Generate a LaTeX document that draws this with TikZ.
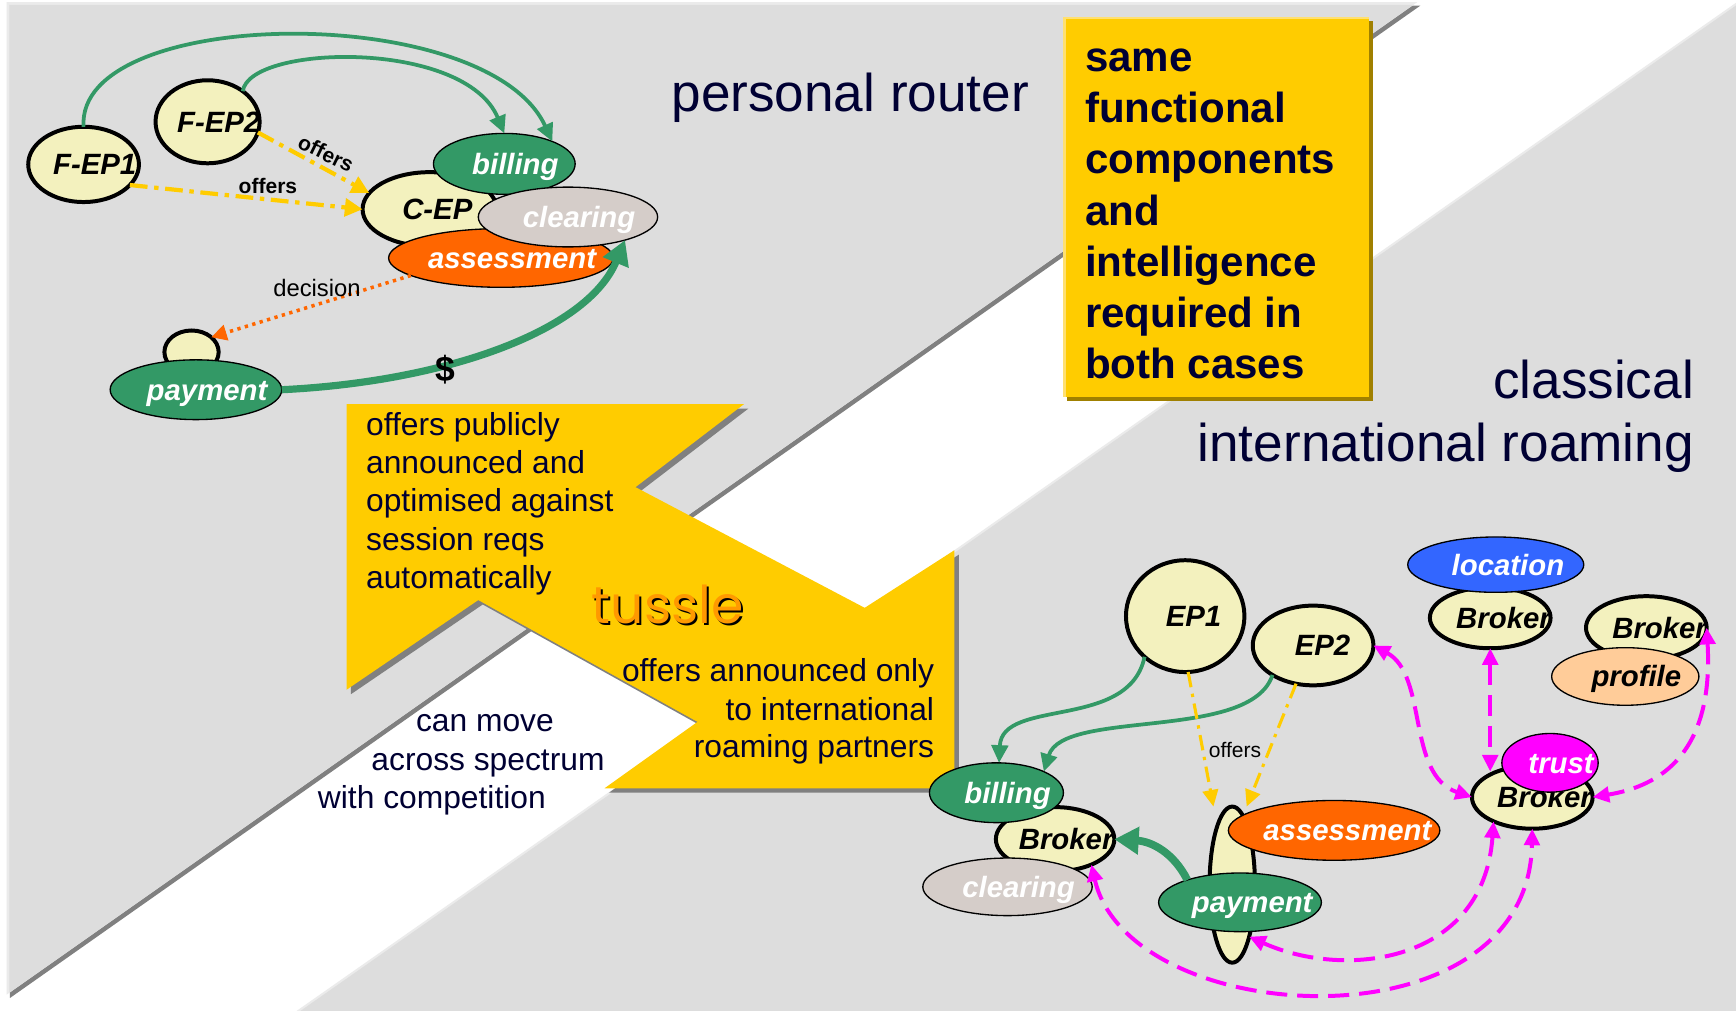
\documentclass[tikz,border=0pt]{standalone}
\usepackage{fontspec}
\setmainfont{Liberation Sans}
\newfontfamily\tusslefont{Poppins}
\usetikzlibrary{shapes.geometric,arrows.meta,calc}

\definecolor{panelgray}{HTML}{DDDDDD}
\definecolor{panellight}{HTML}{EBEBEB}
\definecolor{edgegray}{HTML}{808080}
\definecolor{gold}{HTML}{FFCC00}
\definecolor{goldshadow}{HTML}{A08000}
\definecolor{goldlight}{HTML}{FFE070}
\definecolor{navy}{HTML}{000033}
\definecolor{pale}{HTML}{F3F1BE}
\definecolor{fgreen}{HTML}{339966}
\definecolor{clearfill}{HTML}{D5CDC9}
\definecolor{assess}{HTML}{FF6600}
\definecolor{locblue}{HTML}{3366FF}
\definecolor{trustpink}{HTML}{FF00FF}
\definecolor{profilefill}{HTML}{FFCC99}
\definecolor{tussleorange}{HTML}{FF9900}

% label inside an ellipse, nudged to the right of the centre
\newcommand\nodetext[2][20pt]{\makebox[0pt]{\hspace*{#1}#2}}

\begin{document}
\begin{tikzpicture}[x=1pt, y=-1pt,
  every node/.style={inner sep=0pt, outer sep=0pt},
  ent/.style={ellipse, draw=black, text height=19pt, text depth=0pt,
    font=\fontsize{26.5}{30}\selectfont\bfseries\itshape},
  ep/.style={ent, fill=pale, line width=3.6pt, text=black},
  comp/.style={ent, line width=1.2pt, text=white},
  heading/.style={font=\fontsize{48}{56}\selectfont, text=navy},
  boxline/.style={font=\fontsize{38}{46}\selectfont\bfseries, text=navy, anchor=base west},
  note/.style={font=\fontsize{28.7}{34}\selectfont, text=navy},
  tag/.style={font=\fontsize{19}{22}\selectfont, text=black, anchor=base},
  greenlink/.style={draw=fgreen, line width=3.4pt, -{Triangle[length=16pt,width=15pt]}},
  offerlink/.style={draw=gold, line width=3.8pt, dash pattern=on 16pt off 6pt on 4pt off 6pt,
    -{Triangle[length=16pt,width=16pt]}},
  offerlinkthin/.style={draw=gold, line width=2.8pt, dash pattern=on 14pt off 6pt on 3pt off 6pt,
    -{Triangle[length=15pt,width=14pt]}},
  decisionlink/.style={draw=assess, line width=3.2pt, dash pattern=on 3pt off 4pt,
    -{Triangle[length=14pt,width=14pt]}},
  moneylink/.style={draw=fgreen, line width=6.5pt, -{Triangle[length=22pt,width=24pt]}},
  trustlink/.style={draw=trustpink, line width=3.6pt, dash pattern=on 19pt off 9pt,
    {Triangle[length=15pt,width=14pt]}-{Triangle[length=15pt,width=14pt]}}
]
\useasboundingbox (0,0) rectangle (1568,913);
\fill[white] (0,0) rectangle (1568,913);

% ---- background panels ----
\fill[edgegray] (9,5) -- (1283,5) -- (9,901.4) -- cycle;
\fill[panellight] (6,2) -- (1280,2) -- (6,898.4) -- cycle;
\fill[panelgray] (8.5,4.5) -- (1276.4,4.5) -- (8.5,896.6) -- cycle;
\fill[panellight] (268,913) -- (1568,2.5) -- (1568,913) -- cycle;
\fill[panelgray] (271.5,913) -- (1568,4.95) -- (1568,913) -- cycle;

% ---- tussle banner ----
\begin{scope}[shift={(4,4)}]
  \fill[edgegray] (313,365) -- (672,365) -- (574,440) -- (781,549) -- (862,497) -- (862,712)
    -- (546,712) -- (630,652) -- (432,542) -- (313,623) -- cycle;
\end{scope}
\fill[gold] (313,365) -- (672,365) -- (574,440) -- (781,549) -- (862,497) -- (862,712)
  -- (546,712) -- (630,652) -- (432,542) -- (313,623) -- cycle;

% ---- yellow summary box ----
\fill[goldshadow] (963.5,18.6) rectangle (1239.7,362);
\fill[goldlight] (960.5,15.6) rectangle (1236.7,359);
\fill[gold] (962.5,17.6) rectangle (1236.7,359);
\foreach \t [count=\i] in {same, functional, components, and, intelligence, required in, both cases}
  \node[boxline] (sum\i) at (980, {64.7+46.2*(\i-1)}) {\t};

% ---- headings ----
\node[heading, anchor=base west] (prhead) at (606.5,101) {personal router};
\node[heading, anchor=base east] (crhead1) at (1530,359.8) {classical};
\node[heading, anchor=base east] (crhead2) at (1530,417) {international roaming};

% ---- banner texts ----
\foreach \t [count=\i] in {offers publicly, announced and, optimised against, session reqs, automatically}
  \node[note, anchor=base west] (pub\i) at (330.7, {393+34.6*(\i-1)}) {\t};
\node[note, anchor=base east] (part1) at (843.7,615.8) {offers announced only};
\node[note, anchor=base east] (part2) at (843.7,650.4) {to international};
\node[note, anchor=base east] (part3) at (843.7,684.4) {roaming partners};
\node[note, anchor=base west] (move1) at (375.8,661) {can move};
\node[note, anchor=base west] (move2) at (335.5,695.6) {across spectrum};
\node[note, anchor=base west] (move3) at (287.2,730.2) {with competition};
\node[font=\tusslefont\fontsize{47}{50}\selectfont, text=black, anchor=base west] (tussleshade) at (536.5,565) {tussle};
\node[font=\tusslefont\fontsize{47}{50}\selectfont, text=tussleorange, anchor=base west] (tussle) at (534.5,563) {tussle};

% ---- personal router entities ----
\node[ep, minimum width=100pt, minimum height=68pt] (fep1) at (75.5,148.5) {\nodetext{F-EP1}};
\node[ep, minimum width=94pt, minimum height=75pt] (fep2) at (187.5,110) {\nodetext{F-EP2}};
\node[ep, minimum width=121pt, minimum height=67pt] (cep) at (388,189) {\nodetext[14pt]{C-EP}};
\node[comp, fill=assess, minimum width=203pt, minimum height=53pt] (assessL) at (452.5,233) {\nodetext{assessment}};
\node[comp, fill=fgreen, minimum width=128pt, minimum height=55pt] (billingL) at (455.5,148) {\nodetext{billing}};
\node[comp, fill=clearfill, minimum width=162pt, minimum height=54pt] (clearingL) at (513,196) {\nodetext{clearing}};
\node[ep, minimum width=49pt, minimum height=39pt] (pcirc) at (173,318) {};
\node[comp, fill=fgreen, minimum width=155pt, minimum height=54pt] (paymentL) at (177,352) {\nodetext{payment}};

% ---- personal router links ----
\draw[greenlink] (fep1.90) .. controls (68,5) and (440,0) .. (billingL.25);
\draw[greenlink] (fep2.41) .. controls (225,40) and (420,35) .. (billingL.north);
\draw[offerlink] (fep1.-24) -- (cep.west);
\draw[offerlink] (fep2.-12) -- (cep.165);
\node[tag, font=\fontsize{19}{22}\selectfont\bfseries] (offerA) at (242,174.6) {offers};
\node[font=\fontsize{19}{22}\selectfont\bfseries, rotate=-26] (offerB) at (294.5,138.5) {offers};
\draw[decisionlink] (assessL.191.5) -- (pcirc.37);
\node[tag, font=\fontsize{21.5}{24}\selectfont] (decision) at (286.3,268) {decision};
\draw[moneylink] (paymentL.east) .. controls (400,345) and (530,300) .. (clearingL.-22);
\node[font=\fontsize{32}{36}\selectfont\bfseries, anchor=base] (dollar) at (402,345) {\$};

% ---- roaming entities ----
\node[ep, minimum width=107pt, minimum height=101pt] (ep1) at (1070.5,556.5) {\nodetext[15pt]{EP1}};
\node[ep, minimum width=109pt, minimum height=72pt] (ep2) at (1186,583) {\nodetext[17pt]{EP2}};
\node[ep, minimum width=107pt, minimum height=58pt] (brokerL) at (953,758) {\nodetext{Broker}};
\node[comp, fill=fgreen, minimum width=121pt, minimum height=54pt] (billingR) at (900,716) {\nodetext{billing}};
\node[comp, fill=clearfill, minimum width=153pt, minimum height=52pt] (clearingR) at (910,801) {\nodetext{clearing}};
\node[ep, minimum width=41pt, minimum height=141pt] (col) at (1113,799) {};
\node[comp, fill=assess, minimum width=191pt, minimum height=54pt] (assessR) at (1205,750) {\nodetext[24pt]{assessment}};
\node[comp, fill=fgreen, minimum width=147pt, minimum height=53pt] (paymentR) at (1120,815) {\nodetext[22pt]{payment}};
\node[ep, minimum width=109pt, minimum height=55pt] (brokerTop) at (1346,558) {\nodetext[24pt]{Broker}};
\node[comp, fill=locblue, minimum width=159pt, minimum height=50pt] (location) at (1351,510) {\nodetext[22pt]{location}};
\node[ep, minimum width=109pt, minimum height=57pt] (brokerR) at (1487,567) {\nodetext[24pt]{Broker}};
\node[ent, fill=profilefill, line width=1.2pt, text=black, minimum width=133pt, minimum height=52pt] (profile) at (1468,611) {\nodetext{profile}};
\node[ep, minimum width=109pt, minimum height=57pt] (brokerC) at (1384,720) {\nodetext[22pt]{Broker}};
\node[comp, fill=trustpink, minimum width=87pt, minimum height=53pt] (trust) at (1400,689) {\nodetext{trust}};

% ---- roaming links ----
\draw[greenlink] (ep1.225) .. controls (1020,660) and (905,630) .. (billingR.85);
\draw[greenlink] (ep2.216) .. controls (1130,670) and (960,640) .. (billingR.24);
\draw[offerlinkthin] (ep1.-87) -- ($(col.north)+(-17,0)$);
\draw[offerlinkthin] (ep2.246) -- ($(col.north)+(13,0)$);
\node[tag] (offerC) at (1115.5,684.4) {offers};
\draw[moneylink, line width=7pt] (paymentR.157) .. controls (1060,770) and (1040,760) .. (brokerL.east);
\draw[trustlink] (ep2.east) .. controls (1290,610) and (1270,700) .. (brokerC.west);
\draw[trustlink] (brokerTop.south) -- (brokerTop.south |- brokerC.144);
\draw[trustlink] (brokerR.east) .. controls (1548,680) and (1500,710) .. (brokerC.east);
\draw[trustlink] (col.-72) .. controls (1215,885) and (1340,870) .. (brokerC.212);
\draw[trustlink] (brokerL.-35) .. controls (1020,930) and (1380,950) .. (brokerC.south);
\end{tikzpicture}
\end{document}
